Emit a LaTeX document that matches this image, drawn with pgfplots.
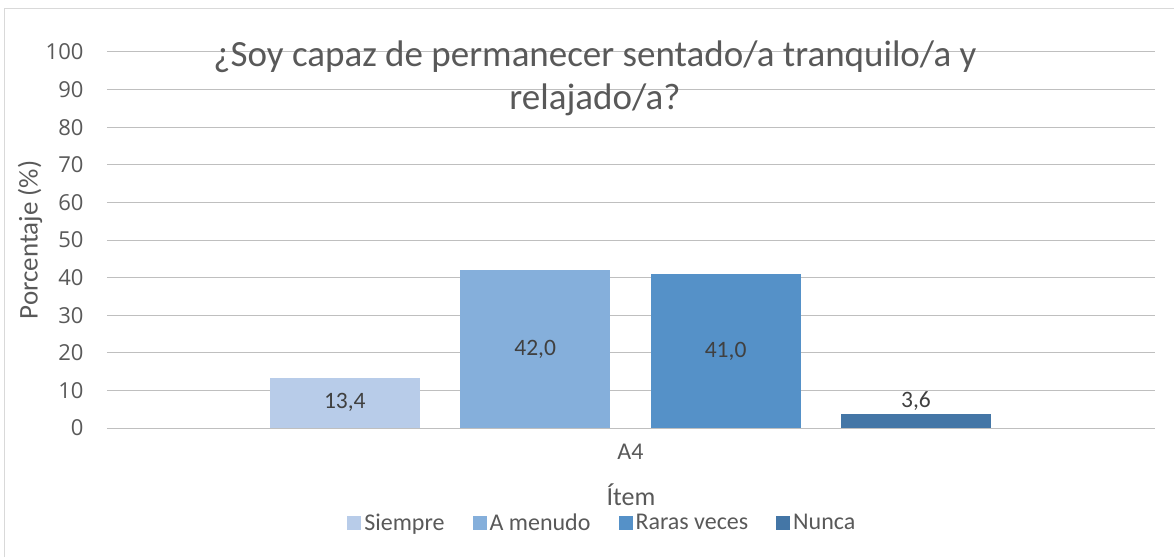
\documentclass[border=0pt]{standalone}
\usepackage{fontspec}
\setmainfont{Carlito}
\newfontfamily\tickfont{Open Sans}
\usepackage{pgfplots}
\pgfplotsset{compat=1.18}
\definecolor{cSiempre}{HTML}{B8CCE9}
\definecolor{cAmenudo}{HTML}{85AFDB}
\definecolor{cRaras}{HTML}{5591C8}
\definecolor{cNunca}{HTML}{4476A6}
\definecolor{txt}{HTML}{595959}
\definecolor{lbl}{HTML}{404040}
\definecolor{grid}{HTML}{D9D9D9}
\begin{document}
\begin{tikzpicture}
\useasboundingbox (-107pt,-129pt) rectangle (1067pt,428pt);
\draw[grid, line width=1pt] (-102pt,-129pt) -- (-102pt,419pt) -- (1067pt,419pt);
\begin{axis}[
  scale only axis,
  width=1048pt, height=376pt,
  xmin=-1.249, xmax=4.255,
  ymin=0, ymax=100,
  ytick={0,10,...,100},
  xtick={1.5}, xticklabels={A4},
  axis line style={draw=none},
  xtick style={draw=none}, ytick style={draw=none},
  xmajorgrids=false, ymajorgrids=true,
  major grid style={grid, line width=1pt},
  yticklabel style={font=\tickfont\fontsize{22}{26}\selectfont, text=txt, xshift=-20pt},
  xticklabel style={font=\fontsize{24}{28}\selectfont, text=txt, yshift=-8pt},
  /pgf/number format/assume math mode=true,
  ylabel={Porcentaje (\%)},
  ylabel style={font=\fontsize{27}{32}\selectfont, text=txt, at={(-77pt,188pt)}, anchor=center, rotate=0},
  xlabel={Ítem},
  xlabel style={font=\fontsize{26}{30}\selectfont, text=txt, at={(524pt,-67pt)}, anchor=center},
  ybar, bar width=0.787, bar shift=0pt,
  nodes near coords={\pgfmathprintnumber[fixed,fixed zerofill,precision=1,use comma]{\pgfplotspointmeta}},
  every node near coord/.append style={font=\fontsize{23.5}{28}\selectfont, text=lbl},
  visualization depends on={rawy \as \ry},
  legend columns=4,
  legend style={at={(0.4727,-0.2527)}, anchor=center, draw=none, fill=none,
    font=\fontsize{24}{28}\selectfont, text=txt,
    /tikz/every odd column/.append style={column sep=1pt},
    /tikz/every even column/.append style={column sep=26pt}},
  legend image code/.code={\fill[#1] (0pt,-7pt) rectangle (14pt,7pt);},
  clip=false,
]
\addplot[fill=cSiempre, draw=none, every node near coord/.append style={anchor=center, yshift={-1.88pt*\ry}}] coordinates {(0,13.4)};
\addplot[fill=cAmenudo, draw=none, every node near coord/.append style={anchor=center, yshift={-1.88pt*\ry}}] coordinates {(1,42.0)};
\addplot[fill=cRaras, draw=none, every node near coord/.append style={anchor=center, yshift={-1.88pt*\ry}}] coordinates {(2,41.0)};
\addplot[fill=cNunca, draw=none] coordinates {(3,3.6)};
\legend{Siempre, A menudo, Raras veces, Nunca}
\node[font=\fontsize{37}{43}\selectfont, text=txt, align=center] at (488pt,350pt) {¿Soy capaz de permanecer sentado/a tranquilo/a y\\relajado/a?};
\end{axis}
\end{tikzpicture}
\end{document}
